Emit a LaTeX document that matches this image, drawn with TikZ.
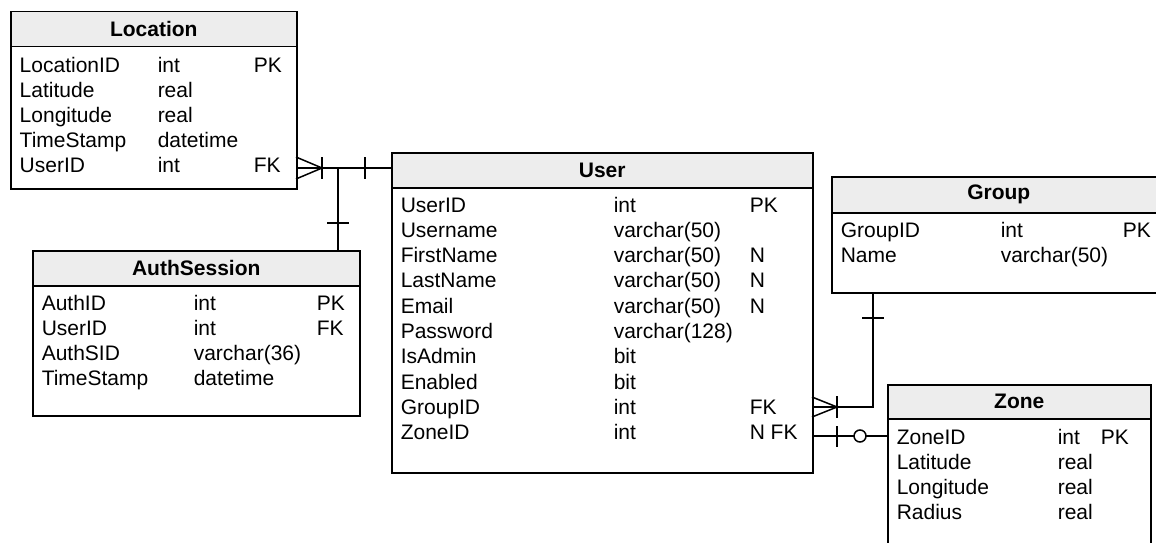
\documentclass[tikz,border=0pt]{standalone}
\usepackage{fontspec}
\setmainfont{Liberation Sans}
\usetikzlibrary{positioning}

\begin{document}
\begin{tikzpicture}[x=1pt,y=-1pt,line width=1.5pt,
    tablehead/.style={draw,fill=black!7,anchor=north west,inner sep=0pt,
      font=\fontsize{21}{24}\selectfont\bfseries},
    tablebody/.style={draw,anchor=north west,inner sep=0pt},
    field/.style={anchor=base west,inner sep=0pt,font=\fontsize{21}{24}\selectfont}]
        \useasboundingbox (0,0) rectangle (1156,543);

        % Location
        \node[tablehead,minimum width=286,minimum height=35] (loc) at (10,11) {Location};
        \node[tablebody,minimum width=286,minimum height=142] (locbody) at (10,46) {};
        \foreach \f/\t/\k [count=\i] in {LocationID/int/PK,Latitude/real/,Longitude/real/,
            TimeStamp/datetime/,UserID/int/FK} {
          \node[field] (loc-f\i) at ({19},{47+25*\i}) {\f};
          \node[field] (loc-t\i) at ({157},{47+25*\i}) {\t};
          \node[field] (loc-k\i) at ({253},{47+25*\i}) {\k};
        }

        % AuthSession
        \node[tablehead,minimum width=327,minimum height=35] (auth) at (32,250) {AuthSession};
        \node[tablebody,minimum width=327,minimum height=130] (authbody) at (32,285) {};
        \foreach \f/\t/\k [count=\i] in {AuthID/int/PK,UserID/int/FK,AuthSID/varchar(36)/,
            TimeStamp/datetime/} {
          \node[field] (auth-f\i) at ({41},{284.7+25.3*\i}) {\f};
          \node[field] (auth-t\i) at ({193},{284.7+25.3*\i}) {\t};
          \node[field] (auth-k\i) at ({316},{284.7+25.3*\i}) {\k};
        }

        % User
        \node[tablehead,minimum width=421,minimum height=35] (usr) at (391,152) {User};
        \node[tablebody,minimum width=421,minimum height=285] (usrbody) at (391,187) {};
        \foreach \f/\t/\k [count=\i] in {UserID/int/PK,Username/varchar(50)/,
            FirstName/varchar(50)/N,LastName/varchar(50)/N,Email/varchar(50)/N,
            Password/varchar(128)/,IsAdmin/bit/,Enabled/bit/,GroupID/int/FK,ZoneID/int/N FK} {
          \node[field] (usr-f\i) at ({400},{186.7+25.3*\i}) {\f};
          \node[field] (usr-t\i) at ({613},{186.7+25.3*\i}) {\t};
          \node[field] (usr-k\i) at ({749},{186.7+25.3*\i}) {\k};
        }

        % Group
        \node[tablehead,minimum width=334,minimum height=36] (grp) at (831,176) {Group};
        \node[tablebody,minimum width=334,minimum height=80] (grpbody) at (831,212) {};
        \foreach \f/\t/\k [count=\i] in {GroupID/int/PK,Name/varchar(50)/} {
          \node[field] (grp-f\i) at ({840},{212+25*\i}) {\f};
          \node[field] (grp-t\i) at ({1000},{212+25*\i}) {\t};
          \node[field] (grp-k\i) at ({1122},{212+25*\i}) {\k};
        }

        % Zone
        \node[tablehead,minimum width=263,minimum height=34] (zon) at (887,384) {Zone};
        \node[tablebody,minimum width=263,minimum height=160] (zonbody) at (887,418) {};
        \foreach \f/\t/\k [count=\i] in {ZoneID/int/PK,Latitude/real/,Longitude/real/,Radius/real/} {
          \node[field] (zon-f\i) at ({896},{418.7+25.3*\i}) {\f};
          \node[field] (zon-t\i) at ({1057},{418.7+25.3*\i}) {\t};
          \node[field] (zon-k\i) at ({1100},{418.7+25.3*\i}) {\k};
        }

        % Location / AuthSession -- User
        \coordinate (locU) at (296,168);
        \coordinate (usrL) at (391,168);
        \coordinate (jn) at (338,168);
        \coordinate (authT) at (338,250);
        \draw (locU) -- (usrL);
        \draw (296,157) -- (322,168) -- (296,179);
        \draw (322,157) -- (322,179);
        \draw (365,157) -- (365,179);
        \draw (jn) -- (authT);
        \draw (327,223) -- (349,223);

        % Group -- User
        \coordinate (grpB) at (873,292);
        \coordinate (usrG) at (812,407);
        \draw (grpB) |- (usrG);
        \draw (862,318) -- (884,318);
        \draw (812,397) -- (837,407) -- (812,417);
        \draw (837,396) -- (837,418);

        % Zone -- User
        \coordinate (usrZ) at (812,436);
        \coordinate (zonL) at (887,436);
        \draw (usrZ) -- (zonL);
        \draw (837,426) -- (837,447);
        \draw[fill=white] (860,436) circle[radius=6pt];
\end{tikzpicture}
\end{document}
